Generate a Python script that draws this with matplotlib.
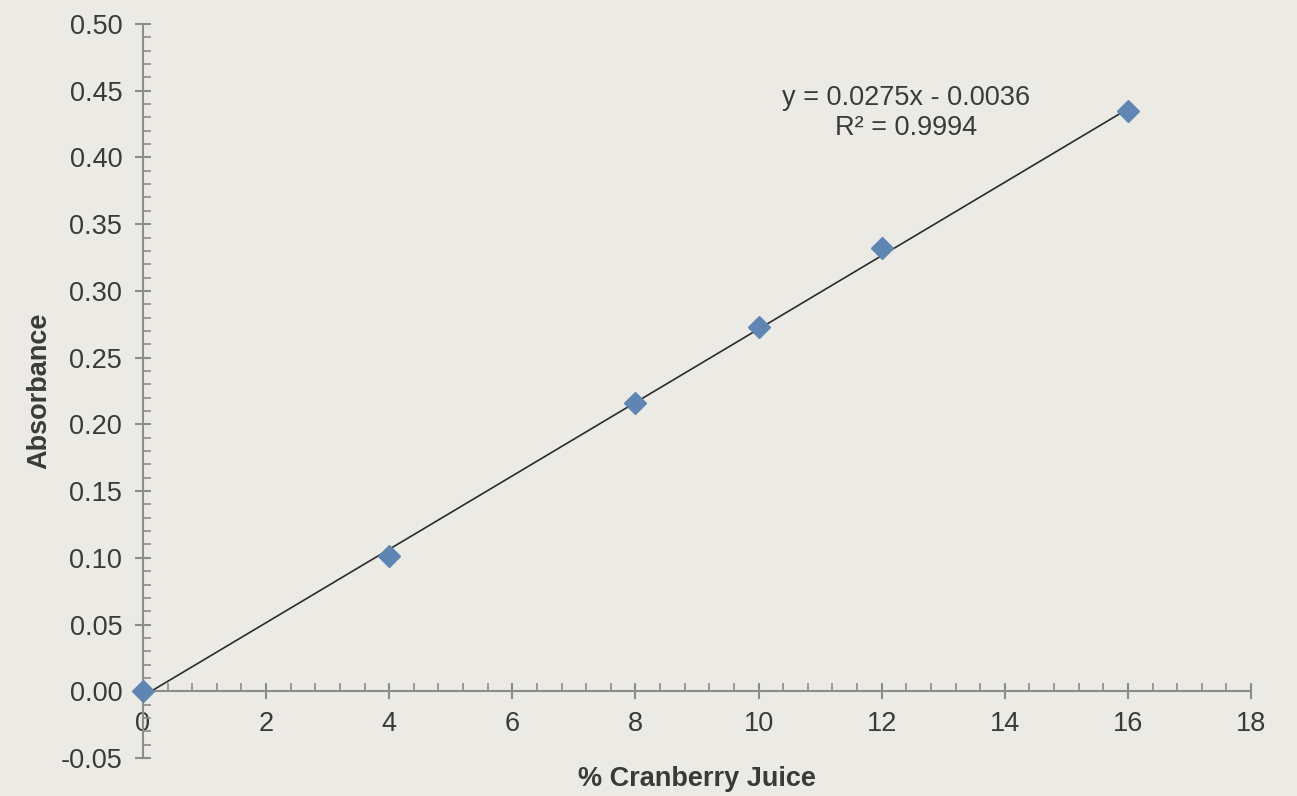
import matplotlib
matplotlib.use("Agg")
import matplotlib.pyplot as plt
from matplotlib.ticker import MultipleLocator, FormatStrFormatter

# Daten
juice_pct = [0, 4, 8, 10, 12, 16]
absorbance = [0.000, 0.101, 0.216, 0.273, 0.332, 0.435]

slope = 0.0275
intercept = -0.0036
r_squared = 0.9994
fit_x = [0, 16]

bg = "#ECEAE5"
axis_col = "#8C8C8C"
text_col = "#3A3A3A"

plt.rcParams['font.family'] = ['Liberation Sans', 'DejaVu Sans']

fig = plt.figure(figsize=(12.97, 7.96), dpi=100, facecolor=bg)
ax = fig.add_axes([143 / 1297, 38 / 796, (1251 - 143) / 1297, (758 - 24) / 796])
ax.set_facecolor(bg)

# Trendlinie
fit_y = [slope * x + intercept for x in fit_x]
ax.plot(fit_x, fit_y, color="#2B2B2B", lw=1.2, zorder=2)

# Messpunkte
ax.plot(juice_pct, absorbance, ls="none", marker="D", ms=11,
        color="#5F86B3", mec="#5F86B3", clip_on=False, zorder=3)

ax.set_xlim(0, 18)
ax.set_ylim(-0.05, 0.5)

for s in ["top", "right"]:
    ax.spines[s].set_visible(False)
ax.spines["bottom"].set_position(("data", 0))
for s in ["left", "bottom"]:
    ax.spines[s].set_color(axis_col)
    ax.spines[s].set_linewidth(1.5)

ax.xaxis.set_major_locator(MultipleLocator(2))
ax.xaxis.set_minor_locator(MultipleLocator(0.4))
ax.yaxis.set_major_locator(MultipleLocator(0.05))
ax.yaxis.set_minor_locator(MultipleLocator(0.01))
ax.yaxis.set_major_formatter(FormatStrFormatter("%.2f"))

ax.tick_params(which="major", direction="inout", length=12, width=1.5,
               color=axis_col, labelsize=19.5, labelcolor=text_col)
ax.tick_params(which="minor", direction="in", length=6, width=1.2, color=axis_col)
ax.tick_params(axis="x", which="major", pad=8)
ax.tick_params(axis="y", which="major", pad=9)

ax.text(0.5, -0.029, "% Cranberry Juice", transform=ax.transAxes,
        ha="center", va="center", fontsize=19.5, fontweight="bold", color=text_col)
ax.text(-0.094, 0.5, "Absorbance", transform=ax.transAxes, rotation=90,
        ha="center", va="center", fontsize=19.5, fontweight="bold", color=text_col)

ax.text(12.39, 0.4335, f"y = {slope}x - {abs(intercept)}\nR² = {r_squared}",
        ha="center", va="center", fontsize=19.5, color=text_col,
        linespacing=1.2)

fig.savefig("out.png", dpi=100, facecolor=bg)
